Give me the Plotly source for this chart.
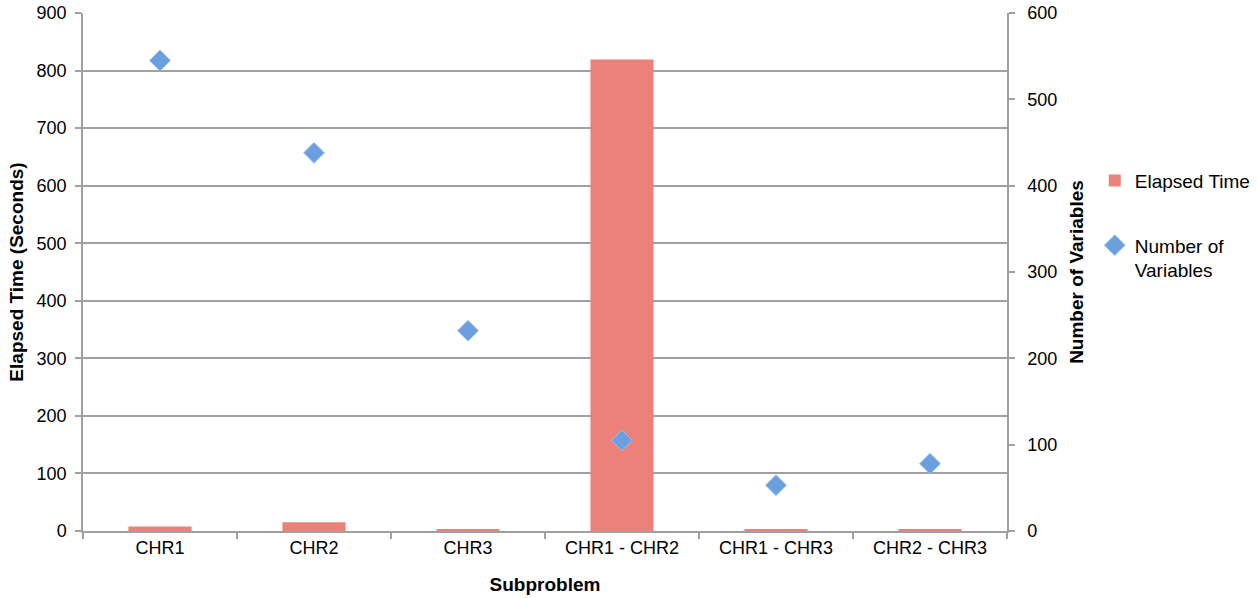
import plotly.graph_objects as go

categories = ["CHR1", "CHR2", "CHR3", "CHR1 - CHR2", "CHR1 - CHR3", "CHR2 - CHR3"]
elapsed_time = [8, 15, 2, 819, 2, 2]
num_variables = [545, 438, 232, 105, 53, 78]

FONT = "Liberation Sans, Arial, Helvetica, sans-serif"
GRID = "#A0A0A0"

fig = go.Figure()
fig.add_trace(go.Bar(
    x=categories, y=elapsed_time, name="Elapsed Time",
    marker=dict(color="#EC807A", line=dict(width=0)),
    width=0.41, legendgroup="a", yaxis="y",
))
fig.add_trace(go.Scatter(
    x=categories, y=num_variables, name="Number of<br>Variables",
    mode="markers", yaxis="y2", legendgroup="b",
    marker=dict(symbol="diamond", size=16, color="#6C9FDF",
                line=dict(color="#9CC0EE", width=1)),
))

fig.update_layout(
    width=1258, height=598,
    margin=dict(l=83, r=251, t=13, b=67, autoexpand=False),
    paper_bgcolor="white", plot_bgcolor="white",
    font=dict(family=FONT, size=18, color="#000000"),
    showlegend=True,
    legend=dict(x=1.095, y=0.713, xanchor="left", yanchor="top",
                traceorder="grouped", tracegroupgap=37,
                font=dict(size=19), valign="top",
                bgcolor="rgba(0,0,0,0)"),
    xaxis=dict(
        title=dict(text="<b>Subproblem</b>", font=dict(size=19), standoff=20),
        showline=True, linecolor=GRID, linewidth=1.5,
        ticks="outside", ticklen=6, tickcolor=GRID, tickwidth=1.5,
        tickson="boundaries", showgrid=False, automargin=False,
        range=[-0.5, 5.5],
    ),
    yaxis=dict(
        title=dict(text="<b>Elapsed Time (Seconds)</b>", font=dict(size=19), standoff=8),
        range=[0, 900], dtick=100, automargin=False,
        showline=True, linecolor=GRID, linewidth=1.5,
        ticks="outside", ticklen=6, tickcolor=GRID, tickwidth=1.5,
        ticklabelstandoff=5,
        showgrid=True, gridcolor=GRID, gridwidth=1.5,
        zeroline=False,
    ),
    yaxis2=dict(
        title=dict(text="<b>Number of Variables</b>", font=dict(size=19), standoff=13),
        range=[0, 600], dtick=100, overlaying="y", side="right", automargin=False,
        showline=True, linecolor=GRID, linewidth=1.5,
        ticks="outside", ticklen=6, tickcolor=GRID, tickwidth=1.5,
        ticklabelstandoff=9,
        showgrid=False, zeroline=False,
    ),
)

fig.write_html("out.html")
